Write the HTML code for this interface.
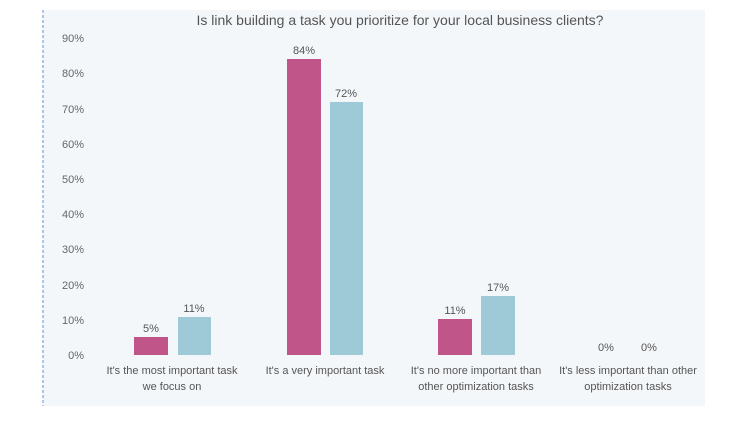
<!DOCTYPE html><html><head><style>
body{margin:0;background:#fff;width:745px;height:420px;overflow:hidden;font-family:"Liberation Sans",sans-serif}
</style></head><body>
<svg width="745" height="420" xmlns="http://www.w3.org/2000/svg" font-family="Liberation Sans, sans-serif">
<rect x="43" y="10" width="662" height="396" fill="#f4f7fa"/>
<line x1="43" y1="10" x2="43" y2="406" stroke="#5b8fd6" stroke-width="1" stroke-dasharray="3,2"/>
<text x="400" y="25" font-size="14" fill="#555" text-anchor="middle">Is link building a task you prioritize for your local business clients?</text>
<g font-size="11" fill="#666" text-anchor="end">
<text x="84" y="359">0%</text><text x="84" y="324">10%</text><text x="84" y="289">20%</text><text x="84" y="253">30%</text><text x="84" y="218">40%</text><text x="84" y="183">50%</text><text x="84" y="148">60%</text><text x="84" y="113">70%</text><text x="84" y="77">80%</text><text x="84" y="42">90%</text>
</g>
<g fill="#c0558a">
<rect x="134" y="337" width="34" height="18"/>
<rect x="287" y="59" width="34" height="296"/>
<rect x="438" y="319" width="34" height="36"/>
</g>
<g fill="#9ecad8">
<rect x="178" y="317" width="33" height="38"/>
<rect x="330" y="102" width="33" height="253"/>
<rect x="481" y="296" width="34" height="59"/>
</g>
<g font-size="11" fill="#555" text-anchor="middle">
<text x="151" y="332">5%</text><text x="194" y="312">11%</text>
<text x="304" y="54">84%</text><text x="346" y="97">72%</text>
<text x="455" y="314">11%</text><text x="498" y="291">17%</text>
<text x="606" y="351">0%</text><text x="649" y="351">0%</text>
</g>
<g font-size="11" fill="#555" text-anchor="middle">
<text x="172" y="374">It's the most important task</text><text x="172" y="390">we focus on</text>
<text x="325" y="374">It's a very important task</text>
<text x="476" y="374">It's no more important than</text><text x="476" y="390">other optimization tasks</text>
<text x="628" y="374">It's less important than other</text><text x="628" y="390">optimization tasks</text>
</g>
</svg>
</body></html>
